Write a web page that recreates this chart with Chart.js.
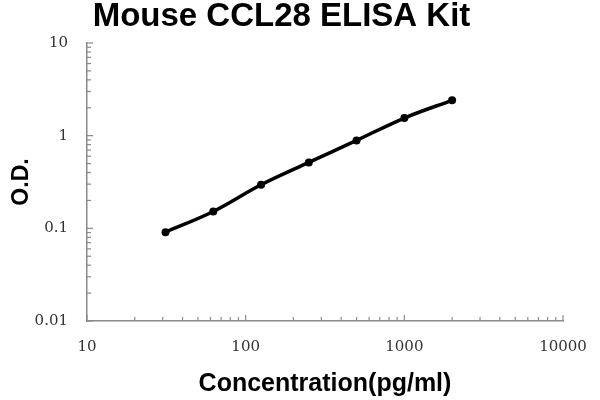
<!DOCTYPE html>
<html>
<head>
<meta charset="utf-8">
<script src="https://cdn.jsdelivr.net/npm/chart.js@4.4.1/dist/chart.umd.min.js"></script>
<style>
    html, body { margin: 0; padding: 0; background: #fff; }
    #wrap { width: 600px; height: 400px; }
</style>
</head>
<body>
<div id="wrap"><canvas id="elisaChart" width="600" height="400"></canvas></div>
<script>
// standard curve points
const concentrations = [31.25, 62.5, 125, 250, 500, 1000, 2000];
const odValues = [0.091, 0.152, 0.295, 0.514, 0.889, 1.55, 2.41];

// axis ticks (labelled decades)
const xTickValues = [10, 100, 1000, 10000];
const xTickLabels = ["10", "100", "1000", "10000"];
const yTickValues = [0.01, 0.1, 1, 10];
const yTickLabels = ["0.01", "0.1", "1", "10"];
const minorSteps = [2, 3, 4, 5, 6, 7, 8, 9];

const axisColor = "#8a8a8a";

// decades + minor steps between them
function logTicks(decades) {
    let out = [];
    decades.forEach((d, i) => {
        out.push(d);
        if (i < decades.length - 1) {
            minorSteps.forEach(m => out.push(+(d * m).toPrecision(6)));
        }
    });
    return out;
}

function labelFor(values, labels) {
    return function (value) {
        const i = values.findIndex(v => Math.abs(v - value) / v < 1e-6);
        return i >= 0 ? labels[i] : "";
    };
}

// small tick marks pointing into the plot
const innerTicks = {
    id: "innerTicks",
    afterDraw(chart) {
        const ctx = chart.ctx;
        const xs = chart.scales.x;
        const ys = chart.scales.y;
        ctx.save();
        ctx.strokeStyle = axisColor;
        ctx.lineWidth = 1.2;
        xs.ticks.forEach(t => {
            const px = xs.getPixelForValue(t.value);
            const len = xTickValues.includes(t.value) ? 6 : 4;
            ctx.beginPath();
            ctx.moveTo(px, ys.bottom);
            ctx.lineTo(px, ys.bottom - len);
            ctx.stroke();
        });
        ys.ticks.forEach(t => {
            const py = ys.getPixelForValue(t.value);
            const len = yTickValues.includes(t.value) ? 6 : 4;
            ctx.beginPath();
            ctx.moveTo(xs.left, py);
            ctx.lineTo(xs.left + len, py);
            ctx.stroke();
        });
        ctx.restore();
    }
};

const ctx = document.getElementById("elisaChart").getContext("2d");
new Chart(ctx, {
    type: "line",
    data: {
        datasets: [{
            data: concentrations.map((c, i) => ({ x: c, y: odValues[i] })),
            borderColor: "#000",
            backgroundColor: "#000",
            borderWidth: 3.5,
            tension: 0.4,
            cubicInterpolationMode: "monotone",
            pointRadius: 4,
            pointBackgroundColor: "#000",
            pointBorderWidth: 0
        }]
    },
    options: {
        responsive: false,
        animation: false,
        layout: { padding: { left: 0, right: 37, top: 0, bottom: 0 } },
        plugins: {
            legend: { display: false },
            tooltip: { enabled: false },
            title: {
                display: true,
                text: "Mouse CCL28 ELISA Kit",
                color: "#000",
                font: { family: "Liberation Sans, Arial, sans-serif", size: 33, weight: "bold", lineHeight: 1.0 },
                padding: { top: 0, bottom: 10 }
            }
        },
        scales: {
            x: {
                type: "logarithmic",
                min: 10,
                max: 10000,
                afterBuildTicks: scale => { scale.ticks = logTicks(xTickValues).map(v => ({ value: v })); },
                afterFit: scale => {
                    scale.height = 79;
                    scale.paddingLeft = 0;
                    scale.paddingRight = 0;
                },
                grid: { display: false, drawTicks: false },
                border: { display: true, color: axisColor, width: 1.5 },
                ticks: {
                    autoSkip: false,
                    maxRotation: 0,
                    padding: 17,
                    color: "#333",
                    font: { family: "DejaVu Serif, serif", size: 15 },
                    callback: labelFor(xTickValues, xTickLabels)
                },
                title: {
                    display: true,
                    text: "Concentration(pg/ml)",
                    color: "#000",
                    font: { family: "Liberation Sans, Arial, sans-serif", size: 25, weight: "bold" },
                    padding: { top: 0, bottom: 1 }
                }
            },
            y: {
                type: "logarithmic",
                min: 0.01,
                max: 10,
                afterBuildTicks: scale => { scale.ticks = logTicks(yTickValues).map(v => ({ value: v })); },
                afterFit: scale => { scale.width = 87; },
                grid: { display: false, drawTicks: false },
                border: { display: true, color: axisColor, width: 1.5 },
                ticks: {
                    autoSkip: false,
                    padding: 19,
                    color: "#333",
                    font: { family: "DejaVu Serif, serif", size: 15 },
                    callback: labelFor(yTickValues, yTickLabels)
                },
                title: {
                    display: true,
                    text: "O.D.",
                    color: "#000",
                    font: { family: "Liberation Sans, Arial, sans-serif", size: 23, weight: "bold" },
                    padding: { top: 8, bottom: 0 }
                }
            }
        }
    },
    plugins: [innerTicks]
});
</script>
</body>
</html>
